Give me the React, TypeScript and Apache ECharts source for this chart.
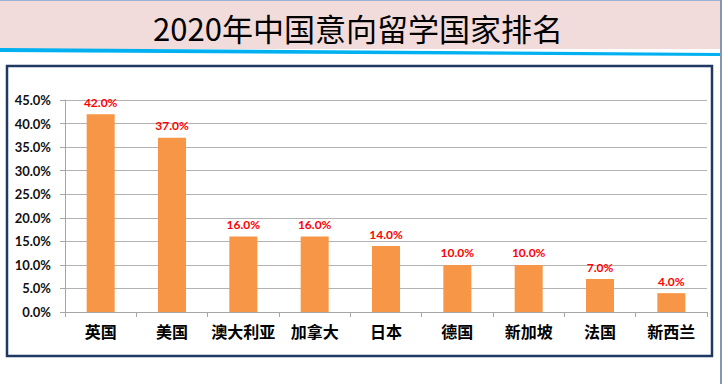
import React, { useEffect, useRef } from "react";
import * as echarts from "echarts";

const titleText = "2020年中国意向留学国家排名";
const categories = ["英国", "美国", "澳大利亚", "加拿大", "日本", "德国", "新加坡", "法国", "新西兰"];
const shares = [42.0, 37.0, 16.0, 16.0, 14.0, 10.0, 10.0, 7.0, 4.0];
const yMin = 0;
const yMax = 45;
const yStep = 5;

export default function App() {
  const ref = useRef<HTMLDivElement>(null);
  useEffect(() => {
    document.body.style.margin = "0";
    if (!ref.current) return;
    const chart = echarts.init(ref.current, null, { renderer: "svg" });
    const latin = "Lato, 'Noto Sans', sans-serif";
    const cjk = "'Noto Sans CJK SC', 'Noto Sans', sans-serif";
    chart.setOption({
      animation: false,
      backgroundColor: "#ffffff",
      graphic: [
        { type: "rect", z: -10, shape: { x: 0, y: 0, width: 722, height: 49 }, style: { fill: "#f2dcdb" } },
        { type: "line", z: -9, shape: { x1: 0, y1: 0.5, x2: 722, y2: 0.5 }, style: { stroke: "#9db3d6", lineWidth: 1 } },
        { type: "polygon", z: -9, shape: { points: [[0, 48], [720, 53], [720, 56], [0, 52]] }, style: { fill: "#00b0f0" } },
        { type: "line", z: -9, shape: { x1: 721, y1: 0, x2: 721, y2: 384 }, style: { stroke: "#8496b0", lineWidth: 2 } },
        { type: "rect", z: -8, shape: { x: 7, y: 66, width: 705, height: 290 }, style: { fill: "#ffffff", stroke: "#1f3864", lineWidth: 2.5 } },
        {
          type: "text",
          z: 10,
          x: 358,
          y: 27,
          style: {
            text: titleText,
            fill: "#000000",
            fontSize: 31,
            fontFamily: cjk,
            align: "center",
            verticalAlign: "middle",
          },
        },
      ],
      grid: { left: 65, right: 15, top: 100, bottom: 72, containLabel: false },
      xAxis: {
        type: "category",
        data: categories,
        boundaryGap: true,
        axisLine: { show: true, lineStyle: { color: "#a6a6a6", width: 1 } },
        axisTick: { show: true, length: 5, interval: 0, alignWithLabel: false, lineStyle: { color: "#a6a6a6" } },
        axisLabel: { interval: 0, margin: 11, color: "#000000", fontSize: 16, fontWeight: "bold", fontFamily: cjk },
      },
      yAxis: {
        type: "value",
        min: yMin,
        max: yMax,
        interval: yStep,
        axisLine: { show: true, lineStyle: { color: "#a6a6a6", width: 1 } },
        axisTick: { show: true, length: 5, lineStyle: { color: "#a6a6a6" } },
        splitLine: { show: true, lineStyle: { color: "#b3b3b3", width: 1 } },
        axisLabel: {
          margin: 14,
          color: "#111111",
          fontSize: 13,
          fontWeight: "bold",
          fontFamily: latin,
          formatter: (v: number) => v.toFixed(1) + "%",
        },
      },
      series: [
        {
          type: "bar",
          data: shares,
          barWidth: 28,
          itemStyle: { color: "#f79646" },
          label: {
            show: true,
            position: "top",
            distance: 6,
            color: "#ff0000",
            fontSize: 12,
            fontWeight: "bold",
            fontFamily: latin,
            formatter: (p: any) => Number(p.value).toFixed(1) + "%",
          },
        },
      ],
    });
    return () => chart.dispose();
  }, []);
  return <div ref={ref} style={{ width: 722, height: 384 }} />;
}
